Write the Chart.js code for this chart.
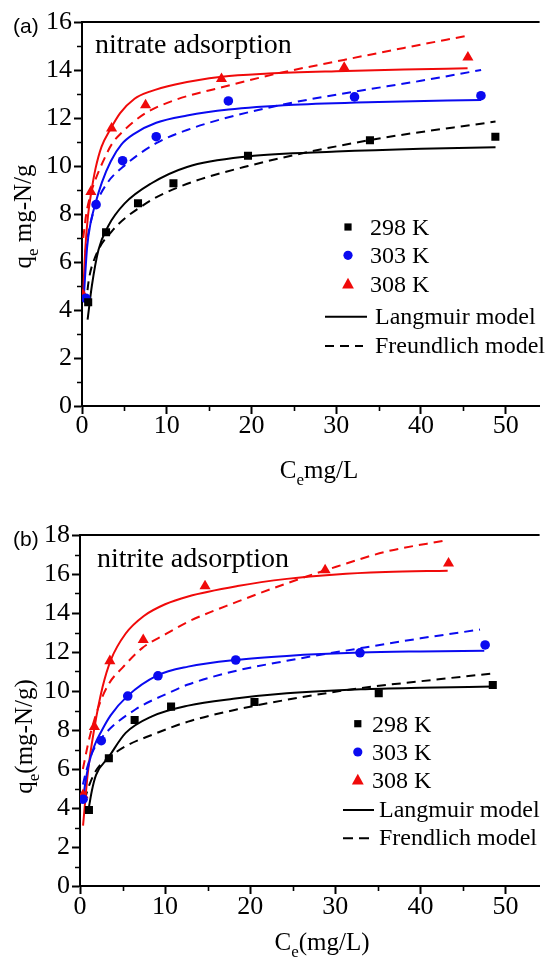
<!DOCTYPE html>
<html>
<head>
<meta charset="utf-8">
<script src="https://cdn.jsdelivr.net/npm/chart.js@4.4.1/dist/chart.umd.min.js"></script>
<style>
    html, body { margin: 0; padding: 0; background: #fff; overflow: hidden; }
    body { position: relative; width: 546px; height: 961px; }
    canvas { display: block; position: absolute; left: 0; }
    #chartA { top: 0; }
    #chartB { top: 480px; }
</style>
</head>
<body>
<canvas id="chartA" width="546" height="500"></canvas>
<canvas id="chartB" width="546" height="481"></canvas>
<script>
// ---- axes ----
const xTickValues = [0, 10, 20, 30, 40, 50];
const xMinorValues = [5, 15, 25, 35, 45];
const nitrateYTicks = [0, 2, 4, 6, 8, 10, 12, 14, 16];
const nitrateYMinor = [1, 3, 5, 7, 9, 11, 13, 15];
const nitriteYTicks = [0, 2, 4, 6, 8, 10, 12, 14, 16, 18];
const nitriteYMinor = [1, 3, 5, 7, 9, 11, 13, 15, 17];

// ---- labels ----
const tempLabels = ['298 K', '303 K', '308 K'];
const nitrateModelLabels = ['Langmuir model', 'Freundlich model'];
const nitriteModelLabels = ['Langmuir model', 'Frendlich model'];

// ---- (a) nitrate: measured Ce (mg/L) and qe (mg-N/g) ----
const nitrateC298 = [0.73, 2.84, 6.61, 10.79, 19.59, 33.98, 48.78];
const nitrateQ298 = [4.32, 7.24, 8.45, 9.28, 10.43, 11.07, 11.22];
const nitrateC303 = [0.45, 1.66, 4.79, 8.76, 17.27, 32.16, 47.08];
const nitrateQ303 = [4.49, 8.39, 10.22, 11.22, 12.71, 12.88, 12.93];
const nitrateC308 = [0.12, 1.05, 3.49, 7.5, 16.46, 30.94, 45.54];
const nitrateQ308 = [4.63, 8.93, 11.57, 12.54, 13.63, 14.10, 14.53];

// (a) fitted curves, [Ce, qe]
const nitrateLangmuir298 = [[0.66, 3.6], [1.16, 5.0], [1.94, 6.5], [3.1, 7.5], [5.04, 8.44], [8.15, 9.27], [12.4, 9.96], [19.6, 10.4], [30, 10.6], [40, 10.72], [48.8, 10.78]];
const nitrateFreundlich298 = [[0.47, 4.2], [0.78, 5.2], [1.55, 6.2], [3.49, 7.27], [7.37, 8.4], [11.25, 9.1], [19.6, 10.0], [34, 11.08], [48.8, 11.85]];
const nitrateLangmuir303 = [[0.19, 4.4], [0.35, 5.3], [0.6, 6.6], [1.0, 7.6], [1.55, 8.4], [2.33, 9.3], [3.4, 10.2], [4.66, 10.9], [6.2, 11.35], [8.76, 11.8], [12.4, 12.1], [17.3, 12.35], [25, 12.55], [35, 12.67], [47.1, 12.75]];
const nitrateFreundlich303 = [[0.39, 6.4], [0.8, 7.3], [1.66, 8.4], [3, 9.3], [4.78, 9.95], [8.76, 10.95], [12.4, 11.5], [17.3, 12.03], [25, 12.65], [32.2, 13.1], [40, 13.55], [47.1, 14.0]];
const nitrateLangmuir308 = [[0.13, 4.6], [0.4, 6.6], [0.7, 7.9], [1.09, 8.9], [1.6, 9.9], [2.3, 10.8], [3.3, 11.5], [4.5, 12.2], [6.2, 12.8], [8, 13.1], [11, 13.4], [16.5, 13.72], [22, 13.85], [30, 13.95], [38, 14.02], [45.5, 14.07]];
const nitrateFreundlich308 = [[0.15, 7.0], [0.5, 8.0], [1.0, 8.8], [1.55, 9.4], [2.5, 10.2], [3.5, 10.9], [5, 11.5], [7.5, 12.2], [11, 12.75], [16.5, 13.28], [23, 13.85], [30.9, 14.42], [38, 14.92], [45.5, 15.43]];

// ---- (b) nitrite: measured ----
const nitriteC298 = [1.05, 3.39, 6.42, 10.7, 20.5, 35.1, 48.5];
const nitriteQ298 = [3.9, 6.55, 8.51, 9.2, 9.44, 9.88, 10.31];
const nitriteC303 = [0.36, 2.5, 5.61, 9.16, 18.3, 32.9, 47.6];
const nitriteQ303 = [4.45, 7.45, 9.74, 10.78, 11.59, 11.96, 12.36];
const nitriteC308 = [0.36, 1.69, 3.51, 7.43, 14.69, 28.8, 43.3];
const nitriteQ308 = [4.67, 8.17, 11.54, 12.62, 15.38, 16.2, 16.55];

// (b) fitted curves
const nitriteLangmuir298 = [[0.92, 3.7], [1.4, 4.9], [1.89, 5.7], [3.35, 6.6], [5.37, 7.85], [8.45, 8.7], [12.7, 9.25], [18, 9.6], [24.3, 9.88], [33, 10.09], [40, 10.17], [48.5, 10.23]];
const nitriteFreundlich298 = [[0.53, 4.4], [1.11, 5.2], [2, 6.0], [3.43, 6.6], [5.5, 7.2], [8.45, 7.75], [12.7, 8.43], [18.5, 9.06], [24.3, 9.55], [33, 10.15], [40, 10.5], [48.5, 10.9]];
const nitriteLangmuir303 = [[0.34, 4.4], [0.7, 5.5], [1.11, 6.4], [1.7, 7.2], [2.47, 7.9], [3.6, 8.75], [5.6, 9.75], [9.1, 10.8], [12.7, 11.25], [18.4, 11.6], [24.3, 11.8], [33, 11.97], [40, 12.03], [47.5, 12.07]];
const nitriteFreundlich303 = [[0.34, 5.2], [0.73, 5.9], [1.5, 6.9], [3.05, 7.85], [6.5, 9.05], [10.4, 9.9], [12.7, 10.33], [18, 11.0], [24.3, 11.55], [33, 12.2], [40, 12.7], [47, 13.15]];
const nitriteLangmuir308 = [[0.36, 3.1], [0.92, 5.8], [1.69, 8.1], [2.65, 10.2], [3.63, 11.6], [5.37, 12.95], [7.5, 13.85], [10, 14.45], [12.7, 14.85], [18.5, 15.38], [24.3, 15.75], [30.1, 15.98], [35.9, 16.1], [43.2, 16.17]];
const nitriteFreundlich308 = [[0.34, 6.0], [1.11, 7.6], [2.27, 9.3], [3.43, 10.4], [5, 11.2], [7.3, 12.2], [10, 12.9], [12.7, 13.55], [18.5, 14.58], [24.3, 15.52], [30.1, 16.37], [35.9, 17.14], [43.2, 17.74]];

// ---- styling ----
const SERIF = '"Liberation Serif", "Times New Roman", serif';
const SANS = '"Liberation Sans", Arial, sans-serif';
const seriesColors = ['#000000', '#0a0af0', '#f00a0a'];
const markerStyles = ['rect', 'circle', 'triangle'];
const markerRadius = [5.7, 4.8, 6.4];

function toXY(cs, qs) {
    return cs.map((c, i) => ({ x: c, y: qs[i] }));
}

function pairsToXY(pairs) {
    return pairs.map(([c, q]) => ({ x: c, y: q }));
}

// draws "main / subscript / main" text centred on cx
function drawSubscripted(ctx, parts, cx, baseY, size) {
    const subSize = Math.round(size * 0.68);
    const pieces = parts.map((t, i) => ({ t, sub: i === 1, font: (i === 1 ? subSize : size) + 'px ' + SERIF }));
    let total = 0;
    pieces.forEach(p => { ctx.font = p.font; p.w = ctx.measureText(p.t).width; total += p.w; });
    let x = cx - total / 2;
    ctx.textAlign = 'left';
    ctx.textBaseline = 'alphabetic';
    pieces.forEach(p => {
        ctx.font = p.font;
        ctx.fillText(p.t, x, baseY + (p.sub ? size * 0.28 : 0));
        x += p.w;
    });
}

function drawLegendMarker(ctx, i, cx, cy) {
    ctx.fillStyle = seriesColors[i];
    ctx.beginPath();
    if (i === 0) {
        ctx.rect(cx - 3.6, cy - 3.6, 7.2, 7.2);
    } else if (i === 1) {
        ctx.arc(cx, cy, 4.6, 0, Math.PI * 2);
    } else {
        ctx.moveTo(cx, cy - 6.2);
        ctx.lineTo(cx + 5.9, cy + 4.4);
        ctx.lineTo(cx - 5.9, cy + 4.4);
        ctx.closePath();
    }
    ctx.fill();
}

const panelDecor = {
    id: 'panelDecor',
    afterDraw(chart, args, opts) {
        const ctx = chart.ctx;
        const area = chart.chartArea;
        const xs = chart.scales.x;
        const ys = chart.scales.y;
        ctx.save();

        // top frame line
        ctx.strokeStyle = '#000';
        ctx.lineWidth = 2;
        ctx.beginPath();
        ctx.moveTo(area.left - 1, area.top);
        ctx.lineTo(area.right, area.top);
        ctx.stroke();

        // minor ticks
        ctx.lineWidth = 1.6;
        ctx.beginPath();
        opts.yMinor.forEach(v => {
            const py = Math.round(ys.getPixelForValue(v)) + 0.5;
            ctx.moveTo(area.left - 5, py);
            ctx.lineTo(area.left, py);
        });
        xMinorValues.forEach(v => {
            const px = Math.round(xs.getPixelForValue(v)) + 0.5;
            ctx.moveTo(px, area.bottom);
            ctx.lineTo(px, area.bottom + 5);
        });
        ctx.stroke();

        ctx.fillStyle = '#000';
        // panel tag
        ctx.font = '21px ' + SANS;
        ctx.textAlign = 'left';
        ctx.textBaseline = 'alphabetic';
        ctx.fillText(opts.tag, 13, opts.tagY);

        // inner title
        ctx.font = '28px ' + SERIF;
        ctx.fillText(opts.title, opts.titleX, opts.titleY);

        // legend
        const lg = opts.legend;
        ctx.font = '24px ' + SERIF;
        tempLabels.forEach((label, i) => {
            drawLegendMarker(ctx, i, lg.markerX, lg.rows[i]);
            ctx.fillStyle = '#000';
            ctx.fillText(label, lg.textX, lg.rows[i] + 7.8);
        });
        ctx.strokeStyle = '#000';
        ctx.lineWidth = 2;
        ctx.beginPath();
        ctx.moveTo(lg.lineX0, lg.rows[3]);
        ctx.lineTo(lg.lineX1, lg.rows[3]);
        ctx.stroke();
        ctx.setLineDash(lg.dash);
        ctx.beginPath();
        ctx.moveTo(lg.lineX0, lg.rows[4]);
        ctx.lineTo(lg.dashX1, lg.rows[4]);
        ctx.stroke();
        ctx.setLineDash([]);
        ctx.fillStyle = '#000';
        ctx.fillText(opts.models[0], lg.lineTextX, lg.rows[3] + 7);
        ctx.fillText(opts.models[1], lg.lineTextX, lg.rows[4] + 7);

        // axis titles
        drawSubscripted(ctx, opts.xTitle, opts.xTitleX, opts.xTitleY, 25);
        ctx.save();
        ctx.translate(opts.yTitleX, opts.yTitleY);
        ctx.rotate(-Math.PI / 2);
        drawSubscripted(ctx, opts.yTitle, 0, 0, 25);
        ctx.restore();

        ctx.restore();
    }
};

function buildPanel(canvasId, panel) {
    const datasets = [];
    panel.points.forEach((s, i) => {
        datasets.push({
            label: tempLabels[i],
            data: toXY(s[0], s[1]),
            showLine: false,
            pointStyle: markerStyles[i],
            pointRadius: markerRadius[i],
            pointBackgroundColor: seriesColors[i],
            pointBorderColor: seriesColors[i],
            pointBorderWidth: 0,
            order: 0
        });
    });
    panel.langmuir.forEach((curve, i) => {
        datasets.push({
            label: panel.models[0] + ' ' + tempLabels[i],
            data: pairsToXY(curve),
            showLine: true,
            pointRadius: 0,
            borderColor: seriesColors[i],
            borderWidth: 2,
            cubicInterpolationMode: 'monotone',
            order: 1
        });
    });
    panel.freundlich.forEach((curve, i) => {
        datasets.push({
            label: panel.models[1] + ' ' + tempLabels[i],
            data: pairsToXY(curve),
            showLine: true,
            pointRadius: 0,
            borderColor: seriesColors[i],
            borderWidth: 2,
            borderDash: [9, 6],
            cubicInterpolationMode: 'monotone',
            order: 2
        });
    });

    const tickFont = { family: SERIF, size: 26, lineHeight: 1 };

    return new Chart(document.getElementById(canvasId), {
        type: 'scatter',
        data: { datasets },
        options: {
            responsive: false,
            animation: false,
            devicePixelRatio: 1,
            layout: { padding: { top: panel.padTop, left: 0, right: 0, bottom: 0 } },
            plugins: {
                legend: { display: false },
                tooltip: { enabled: false },
                panelDecor: panel.decor
            },
            scales: {
                x: {
                    type: 'linear',
                    min: 0,
                    max: 54,
                    afterBuildTicks: s => { s.ticks = xTickValues.map(v => ({ value: v })); },
                    afterFit: s => { s.height = panel.xHeight; },
                    grid: { drawOnChartArea: false, tickLength: 8, tickWidth: 2, tickColor: '#000' },
                    border: { color: '#000', width: 2 },
                    ticks: { color: '#000', font: tickFont, padding: panel.xPad, maxRotation: 0, autoSkip: false, callback: v => String(v) }
                },
                y: {
                    type: 'linear',
                    min: 0,
                    max: panel.yTicks[panel.yTicks.length - 1],
                    afterBuildTicks: s => { s.ticks = panel.yTicks.map(v => ({ value: v })); },
                    afterFit: s => { s.width = panel.yWidth; },
                    grid: { drawOnChartArea: false, tickLength: 8, tickWidth: 2, tickColor: '#000' },
                    border: { color: '#000', width: 2 },
                    ticks: { color: '#000', font: tickFont, padding: 2, autoSkip: false, callback: v => String(v) }
                }
            }
        },
        plugins: [panelDecor]
    });
}

buildPanel('chartA', {
    points: [[nitrateC298, nitrateQ298], [nitrateC303, nitrateQ303], [nitrateC308, nitrateQ308]],
    langmuir: [nitrateLangmuir298, nitrateLangmuir303, nitrateLangmuir308],
    freundlich: [nitrateFreundlich298, nitrateFreundlich303, nitrateFreundlich308],
    models: nitrateModelLabels,
    yTicks: nitrateYTicks,
    padTop: 22,
    yWidth: 82,
    xHeight: 94,
    xPad: -1,
    decor: {
        yMinor: nitrateYMinor,
        tag: '(a)', tagY: 33,
        title: 'nitrate adsorption', titleX: 95, titleY: 53,
        models: nitrateModelLabels,
        legend: { markerX: 348, textX: 370, lineX0: 325, lineX1: 367, dashX1: 363, lineTextX: 375, dash: [9, 6], rows: [227, 255.3, 284, 316.7, 346] },
        xTitle: ['C', 'e', 'mg/L'], xTitleX: 319, xTitleY: 478,
        yTitle: ['q', 'e', ' mg-N/g'], yTitleX: 30.5, yTitleY: 216.5
    }
});

buildPanel('chartB', {
    points: [[nitriteC298, nitriteQ298], [nitriteC303, nitriteQ303], [nitriteC308, nitriteQ308]],
    langmuir: [nitriteLangmuir298, nitriteLangmuir303, nitriteLangmuir308],
    freundlich: [nitriteFreundlich298, nitriteFreundlich303, nitriteFreundlich308],
    models: nitriteModelLabels,
    yTicks: nitriteYTicks,
    padTop: 55,
    yWidth: 80,
    xHeight: 75,
    xPad: 0,
    decor: {
        yMinor: nitriteYMinor,
        tag: '(b)', tagY: 66,
        title: 'nitrite adsorption', titleX: 97, titleY: 87,
        models: nitriteModelLabels,
        legend: { markerX: 357.8, textX: 372, lineX0: 343, lineX1: 374, dashX1: 369, lineTextX: 379, dash: [10, 6], rows: [243.7, 272, 300, 330, 358.3] },
        xTitle: ['C', 'e', '(mg/L)'], xTitleX: 322, xTitleY: 470,
        yTitle: ['q', 'e', '(mg-N/g)'], yTitleX: 31.5, yTitleY: 256.5
    }
});
</script>
</body>
</html>
